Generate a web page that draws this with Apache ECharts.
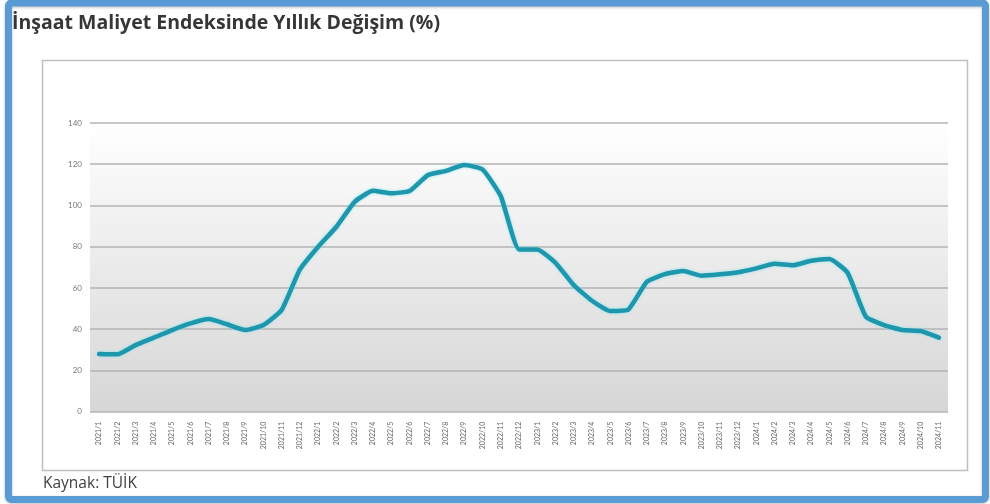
<!DOCTYPE html>
<html><head><meta charset="utf-8">
<script src="https://cdn.jsdelivr.net/npm/echarts@6/dist/echarts.min.js"></script>
<style>html,body{margin:0;padding:0;background:#fff}#c{width:990px;height:504px}</style>
</head><body><div id="c"></div>
<script>
const titleText = 'İnşaat Maliyet Endeksinde Yıllık Değişim (%)';
const sourceText = 'Kaynak: TÜİK';
const categories = [
 '2021/1','2021/2','2021/3','2021/4','2021/5','2021/6','2021/7','2021/8','2021/9','2021/10','2021/11','2021/12',
 '2022/1','2022/2','2022/3','2022/4','2022/5','2022/6','2022/7','2022/8','2022/9','2022/10','2022/11','2022/12',
 '2023/1','2023/2','2023/3','2023/4','2023/5','2023/6','2023/7','2023/8','2023/9','2023/10','2023/11','2023/12',
 '2024/1','2024/2','2024/3','2024/4','2024/5','2024/6','2024/7','2024/8','2024/9','2024/10','2024/11'
];
const values = [
 28.0, 27.8, 32.3, 35.9, 39.6, 42.8, 44.9, 42.4, 39.6, 42.0, 49.3, 69.0,
 80.0, 89.7, 101.8, 107.1, 105.9, 107.0, 114.7, 116.8, 119.6, 117.5, 104.6, 78.7,
 78.7, 72.2, 61.4, 53.8, 48.8, 49.6, 63.0, 66.7, 68.2, 65.9, 66.6, 67.6,
 69.5, 71.7, 71.0, 73.2, 74.0, 67.4, 46.1, 42.0, 39.6, 39.1, 35.9
];
const yTicks = {min: 0, max: 140, interval: 20};

const chart = echarts.init(document.getElementById('c'), null, {renderer: 'canvas'});
chart.setOption({
  backgroundColor: '#ffffff',
  animation: false,
  graphic: [
    {type: 'rect', z: -10, silent: true,
     shape: {x: 8.5, y: 3, width: 977, height: 496.5, r: 3},
     style: {fill: '#ffffff', stroke: '#5b9bd5', lineWidth: 7, shadowColor: 'rgba(0,0,0,0.25)', shadowBlur: 3, shadowOffsetY: 1}},
    {type: 'rect', z: -9, silent: true,
     shape: {x: 42.5, y: 60.5, width: 925, height: 410},
     style: {fill: '#ffffff', stroke: '#bfbfbf', lineWidth: 1.5}},
    {type: 'text', z: 10, left: 12, top: 13,
     style: {text: titleText, fill: '#363636', font: 'bold 19.5px "Open Sans"'}},
    {type: 'text', z: 10, left: 43, top: 476,
     style: {text: sourceText, fill: '#404040', font: '15.5px "Open Sans"'}}
  ],
  grid: {
    left: 90, right: 42, top: 123, bottom: 92.3,
    show: true, borderWidth: 0,
    backgroundColor: new echarts.graphic.LinearGradient(0, 0, 0, 1, [
      {offset: 0, color: '#ffffff'},
      {offset: 1, color: '#d6d6d6'}
    ])
  },
  xAxis: {
    type: 'category',
    data: categories,
    boundaryGap: true,
    axisLine: {show: false},
    axisTick: {show: false},
    axisLabel: {rotate: 90, interval: 0, fontSize: 7, color: '#666666', margin: 10, fontFamily: 'Lato'},
    splitLine: {show: false}
  },
  yAxis: {
    type: 'value',
    min: yTicks.min, max: yTicks.max, interval: yTicks.interval,
    axisLine: {show: false},
    axisTick: {show: false},
    axisLabel: {fontSize: 8, color: '#777777', margin: 8, fontFamily: 'Lato'},
    splitLine: {lineStyle: {color: '#b3b3b3', width: 1.5}}
  },
  series: [{
    type: 'line',
    data: values,
    smooth: 0.15,
    symbol: 'none',
    lineStyle: {color: '#1e97ad', width: 4.5, cap: 'round', join: 'round',
      shadowColor: 'rgba(120,225,240,0.8)', shadowBlur: 3}
  }]
});
</script></body></html>
